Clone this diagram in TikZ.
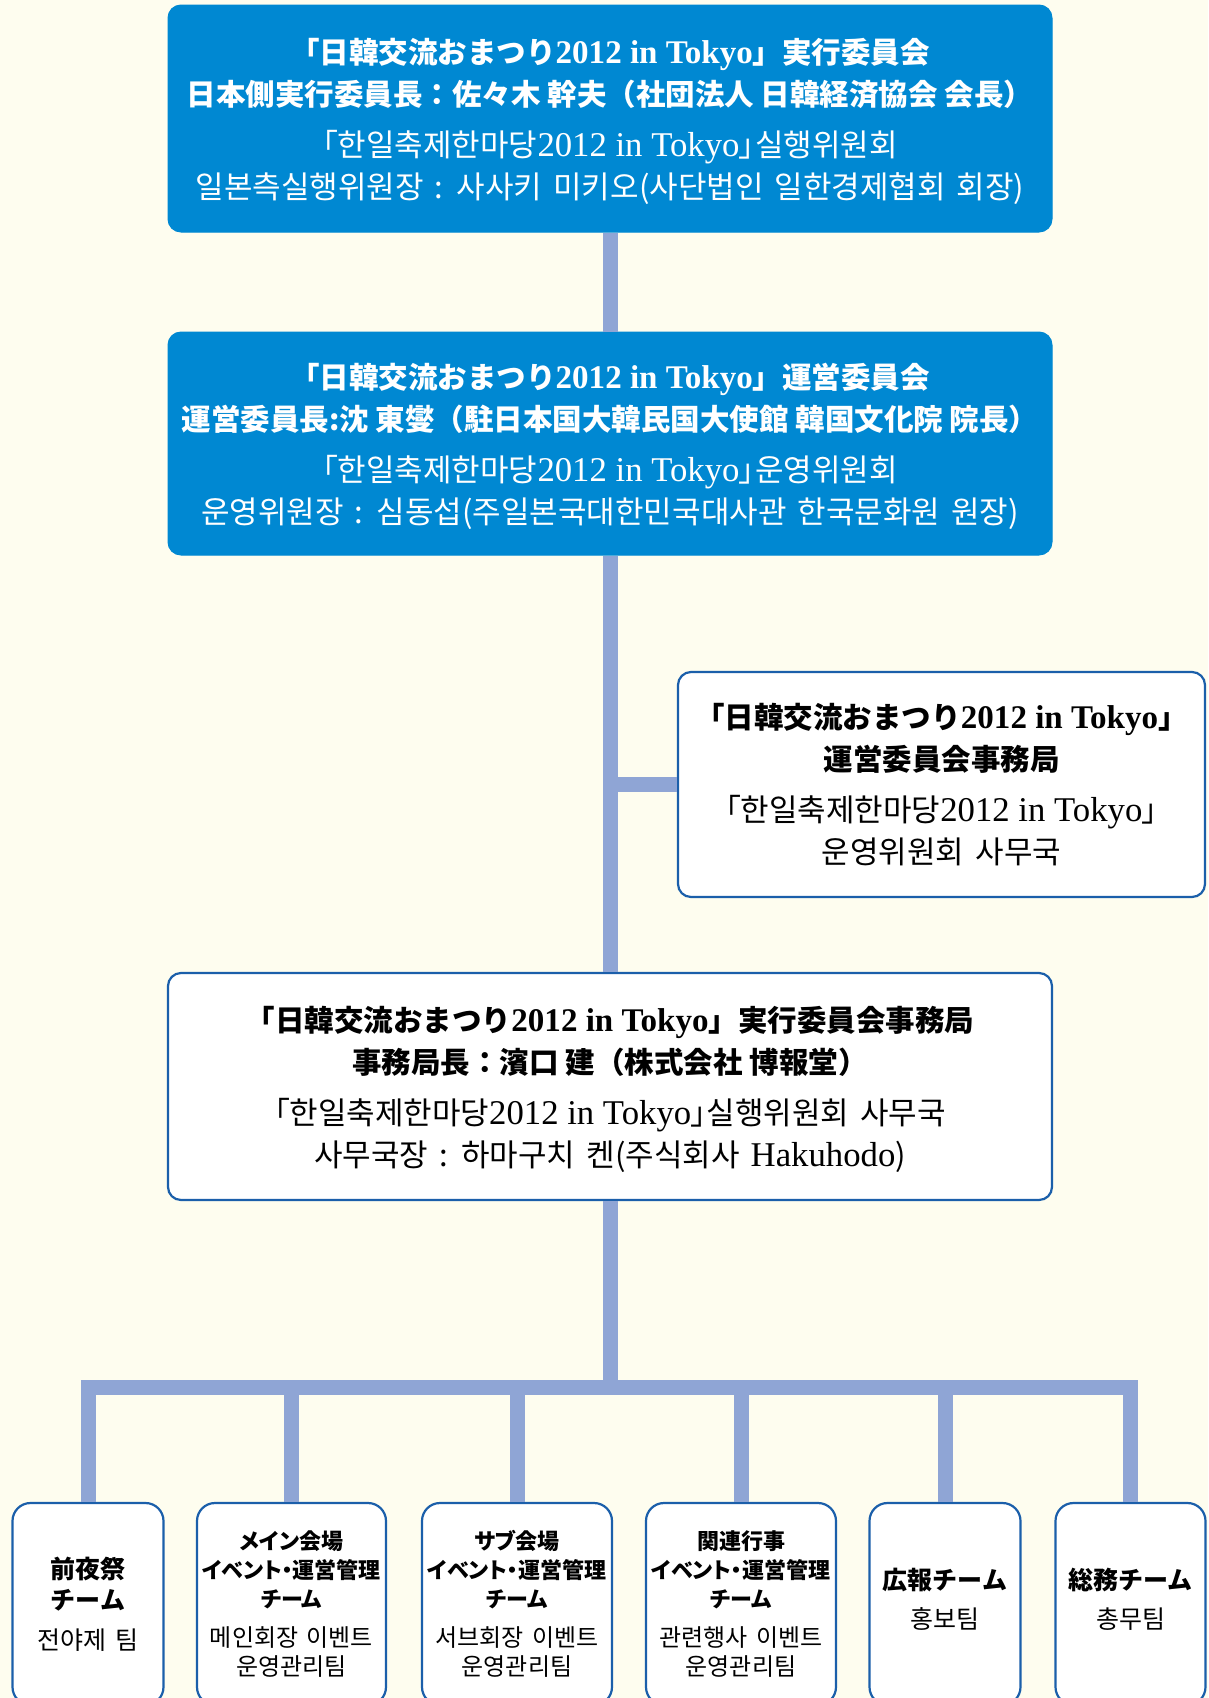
\documentclass[tikz,border=0pt]{standalone}
\usepackage{fontspec}
\newfontfamily\jpf{Noto Sans CJK JP}
\newfontfamily\jpp{Noto Sans CJK JP}[RawFeature=+palt]
\newfontfamily\krf{Noto Sans CJK KR}[WordSpace=1.6]
\newfontfamily\krp{Noto Sans CJK KR}[RawFeature=+palt]
\newfontfamily\latf{Liberation Serif}[Scale=1.12]
\newcommand\LT[1]{{\latf #1}}
\newcommand\LB{{\krp 「}}
\newcommand\RB{{\krp 」}}
\newcommand\JA{\jpf\bfseries}
\newcommand\KO{\krf\fontsize{31}{42}\selectfont}
\newcommand\UP{\rule{0pt}{32pt}}
\definecolor{bgcol}{HTML}{FEFDEF}
\definecolor{boxblue}{HTML}{0088D2}
\definecolor{linkblue}{HTML}{8FA5D5}
\definecolor{edgeblue}{HTML}{1B5FAA}
\tikzset{
  bluebox/.style={draw=boxblue, fill=boxblue, line width=1pt, rounded corners=13pt,
    minimum width=884pt, inner sep=0pt, align=center, text=white,
    font=\fontsize{29.5}{42}\selectfont},
  whitebox/.style={draw=edgeblue, fill=white, line width=2.2pt, rounded corners=13pt,
    inner sep=0pt, align=center, text=black,
    font=\fontsize{29.5}{42}\selectfont},
  teambox/.style={whitebox, rounded corners=18pt, minimum height=202pt},
  link/.style={draw=linkblue, line width=15pt}
}
\begin{document}
\begin{tikzpicture}[x=1pt,y=-1pt]
\useasboundingbox (0,0) rectangle (1208,1698);
\fill[bgcol] (0,0) rectangle (1208,1698);
\clip (0,0) rectangle (1208,1698);

\node[bluebox, minimum height=227pt] (b1) at (610,118.5) {%
  {\UP\JA 「日韓交流おまつり\LT{2012 in Tokyo}」実行委員会}\\
  {\JA 日本側実行委員長：佐々木 幹夫（社団法人 日韓経済協会 会長）}\\[9pt]
  {\KO \LB 한일축제한마당\LT{2012 in Tokyo}\RB 실행위원회}\\
  {\KO 일본측실행위원장 : 사사키 미키오(사단법인 일한경제협회 회장)}};

\node[bluebox, minimum height=223pt] (b2) at (610,443.5) {%
  {\UP\JA 「日韓交流おまつり\LT{2012 in Tokyo}」運営委員会}\\
  {\JA 運営委員長:沈 東燮（駐日本国大韓民国大使館 韓国文化院 院長）}\\[9pt]
  {\KO \LB 한일축제한마당\LT{2012 in Tokyo}\RB 운영위원회}\\
  {\KO 운영위원장 : 심동섭(주일본국대한민국대사관 한국문화원 원장)}};

\node[whitebox, minimum width=527pt, minimum height=225pt] (side) at (941.5,784.5) {%
  {\JA 「日韓交流おまつり\LT{2012 in Tokyo}」}\\
  {\JA 運営委員会事務局}\\[9pt]
  {\KO \LB 한일축제한마당\LT{2012 in Tokyo}\RB}\\
  {\KO 운영위원회 사무국}};

\node[whitebox, minimum width=884pt, minimum height=227pt] (b4) at (610,1086.5) {%
  {\UP\JA 「日韓交流おまつり\LT{2012 in Tokyo}」実行委員会事務局}\\
  {\JA 事務局長：濱口 建（株式会社 博報堂）}\\[9pt]
  {\KO \LB 한일축제한마당\LT{2012 in Tokyo}\RB 실행위원회 사무국}\\
  {\KO 사무국장 : 하마구치 켄(주식회사 \LT{Hakuhodo})}};

\node[teambox, minimum width=151pt, font=\fontsize{25}{31}\selectfont] (t1) at (88,1604) {%
  {\JA 前夜祭}\\ {\JA チーム}\\[9pt] {\krf 전야제 팀}};
\node[teambox, minimum width=189pt, font=\fontsize{22}{29}\selectfont] (t2) at (291.5,1604) {%
  {\jpp\bfseries メイン会場}\\ {\jpp\bfseries イベント・運営管理}\\ {\jpp\bfseries チーム}\\[10pt]
  {\krf\fontsize{24}{29}\selectfont 메인회장 이벤트}\\ {\krf\fontsize{24}{29}\selectfont 운영관리팀}};
\node[teambox, minimum width=190pt, font=\fontsize{22}{29}\selectfont] (t3) at (517,1604) {%
  {\jpp\bfseries サブ会場}\\ {\jpp\bfseries イベント・運営管理}\\ {\jpp\bfseries チーム}\\[10pt]
  {\krf\fontsize{24}{29}\selectfont 서브회장 이벤트}\\ {\krf\fontsize{24}{29}\selectfont 운영관리팀}};
\node[teambox, minimum width=190pt, font=\fontsize{22}{29}\selectfont] (t4) at (741,1604) {%
  {\jpp\bfseries 関連行事}\\ {\jpp\bfseries イベント・運営管理}\\ {\jpp\bfseries チーム}\\[10pt]
  {\krf\fontsize{24}{29}\selectfont 관련행사 이벤트}\\ {\krf\fontsize{24}{29}\selectfont 운영관리팀}};
\node[teambox, minimum width=151pt, font=\fontsize{25}{39}\selectfont] (t5) at (945,1604) {%
  {\JA 広報チーム}\\ {\krf 홍보팀\rule[-11pt]{0pt}{11pt}}};
\node[teambox, minimum width=150pt, font=\fontsize{25}{39}\selectfont] (t6) at (1130.5,1604) {%
  {\JA 総務チーム}\\ {\krf 총무팀\rule[-11pt]{0pt}{11pt}}};

\coordinate (bus) at (610,1387);
\draw[link] (b1.south) -- (b2.north);
\draw[link] (b2.south) -- (b4.north);
\draw[link] (side.west) -- (side.west -| b2.south);
\draw[link] (b4.south) -- (bus);
\draw[link] (t1.north) -- (t1.north |- bus) -- (t6.north |- bus) -- (t6.north);
\foreach \t in {t2,t3,t4,t5} \draw[link] (\t.north) -- (\t.north |- bus);
\end{tikzpicture}
\end{document}
